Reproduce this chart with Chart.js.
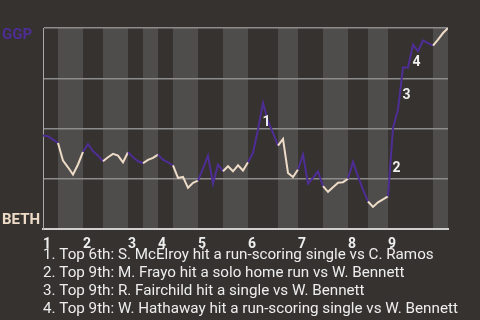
<!DOCTYPE html>
<html>
<head>
<meta charset="utf-8">
<script src="https://cdn.jsdelivr.net/npm/chart.js@4"></script>
<style>
  html, body { margin: 0; padding: 0; background: #353230; }
  #wrap { width: 480px; height: 320px; }
</style>
</head>
<body>
<div id="wrap"><canvas id="chart" width="480" height="320"></canvas></div>
<script>
// Teams: away (top of the scale) and home (bottom of the scale)
const awayTeam = 'GGP';
const homeTeam = 'BETH';

// GGP win probability (%) after each plate appearance, in game order
const winProb = [
  46.5, 46.2, 44.5, 42.8, 34.0, 30.7, 27.1, 32.1, 38.4, 42.3,
  38.7, 36.5, 33.7, 35.7, 37.4, 36.5, 33.2, 38.2, 35.7, 33.7,
  32.7, 34.4, 35.4, 37.0, 34.5, 33.2, 31.6, 25.4, 25.9, 20.5,
  23.0, 24.1, 30.1, 36.5, 22.5, 32.1, 28.7, 31.2, 28.7, 31.7,
  29.1, 33.2, 37.9, 49.5, 62.7, 53.6, 47.8, 41.5, 44.8, 27.9,
  25.9, 29.6, 37.0, 22.5, 25.4, 28.7, 21.3, 18.5, 20.8, 23.0,
  23.3, 25.0, 33.4, 26.2, 19.6, 13.7, 11.0, 13.3, 14.7, 16.2,
  50.3, 59.4, 80.4, 80.4, 91.7, 88.4, 93.8, 92.5, 91.2, 94.2,
  97.5, 100
];

// Event index where each half-inning begins (top 1st, bottom 1st, top 2nd, ...)
const halfInningStarts = [0, 3, 8, 12, 17, 20, 23, 26, 31, 36, 41, 47, 51, 56, 61, 65, 69, 78];

// Inning tick marks
const inningStarts = [0, 8, 17, 23, 31, 41, 51, 61, 69];
const inningLabels = ['1', '2', '3', '4', '5', '6', '7', '8', '9'];

// Key plays: event index that ends the play, and its description
const keyPlayEvents = [44, 70, 72, 74];
const keyPlayNotes = [
  'Top 6th: S. McElroy hit a run-scoring single vs C. Ramos',
  'Top 9th: M. Frayo hit a solo home run vs W. Bennett',
  'Top 9th: R. Fairchild hit a single vs W. Bennett',
  'Top 9th: W. Hathaway hit a run-scoring single vs W. Bennett'
];

const AWAY_COLOR = '#4e2d94';
const HOME_COLOR = '#efdcc8';
const BG = '#353230';
const STRIPE = '#4e4d4b';
const TEXT = '#eeeeee';
const FONT = 'Roboto, "DejaVu Sans", sans-serif';

function halfIndex(i) {
  let k = 0;
  for (let j = 0; j < halfInningStarts.length; j++) {
    if (halfInningStarts[j] <= i) k = j;
  }
  return k;
}
function isTopHalf(i) { return halfIndex(i) % 2 === 0; }

const lastEvent = winProb.length - 1;
const points = winProb.map((v, i) => ({ x: i, y: v }));

// Shaded bottom-half innings, drawn behind grid and line
const stripesPlugin = {
  id: 'stripes',
  beforeDraw(chart) {
    const { ctx, chartArea, scales } = chart;
    ctx.save();
    ctx.fillStyle = BG;
    ctx.fillRect(0, 0, chart.width, chart.height);
    ctx.fillStyle = STRIPE;
    for (let k = 1; k < halfInningStarts.length; k += 2) {
      const x0 = scales.x.getPixelForValue(halfInningStarts[k]);
      const end = k + 1 < halfInningStarts.length ? halfInningStarts[k + 1] : lastEvent;
      const x1 = scales.x.getPixelForValue(end);
      ctx.fillRect(x0, chartArea.top, x1 - x0, chartArea.bottom - chartArea.top);
    }
    ctx.restore();
  }
};

// Team names, key-play numbers and the key-play list
const notesPlugin = {
  id: 'notes',
  afterDraw(chart) {
    const { ctx, chartArea, scales } = chart;
    ctx.save();
    ctx.textAlign = 'left';
    ctx.textBaseline = 'alphabetic';
    ctx.font = 'bold 15px ' + FONT;
    ctx.fillStyle = AWAY_COLOR;
    ctx.fillText(awayTeam, 2, chartArea.top + 11);
    ctx.fillStyle = HOME_COLOR;
    ctx.fillText(homeTeam, 2, chartArea.bottom - 5);

    ctx.font = 'bold 14px ' + FONT;
    ctx.fillStyle = TEXT;
    ctx.textBaseline = 'middle';
    keyPlayEvents.forEach((ev, n) => {
      const xa = scales.x.getPixelForValue(ev - 1);
      const xb = scales.x.getPixelForValue(ev);
      const ya = scales.y.getPixelForValue(winProb[ev - 1]);
      const yb = scales.y.getPixelForValue(winProb[ev]);
      ctx.fillText(String(n + 1), (xa + xb) / 2 + 2, (ya + yb) / 2 + 6.5);
    });

    ctx.font = '15.2px ' + FONT;
    ctx.textBaseline = 'alphabetic';
    keyPlayNotes.forEach((note, n) => {
      ctx.fillText((n + 1) + '. ' + note, chartArea.left, 258.5 + n * 18);
    });
    ctx.restore();
  }
};

new Chart(document.getElementById('chart'), {
  type: 'line',
  data: {
    datasets: [{
      data: points,
      borderWidth: 2,
      pointRadius: 0,
      tension: 0,
      borderColor: AWAY_COLOR,
      segment: {
        borderColor: c => isTopHalf(c.p0DataIndex) ? AWAY_COLOR : HOME_COLOR
      }
    }]
  },
  options: {
    responsive: false,
    devicePixelRatio: 1,
    animation: false,
    events: [],
    layout: { padding: { left: 43, top: 28, right: 32, bottom: 0 } },
    plugins: { legend: { display: false }, tooltip: { enabled: false } },
    scales: {
      x: {
        type: 'linear',
        min: 0,
        max: lastEvent,
        afterBuildTicks: s => { s.ticks = inningStarts.map(v => ({ value: v })); },
        afterFit: s => { s.height = 91; },
        grid: { display: false },
        border: { display: true, color: '#cfcfcf', width: 2 },
        ticks: {
          align: 'start',
          autoSkip: false,
          maxRotation: 0,
          padding: 0,
          color: TEXT,
          font: { family: FONT, size: 14, weight: 'bold', lineHeight: 1 },
          callback: (v, i) => inningLabels[i]
        }
      },
      y: {
        min: 0,
        max: 100,
        afterFit: s => { s.width = 0; },
        ticks: { display: false, stepSize: 25 },
        grid: {
          drawTicks: false,
          color: c => c.tick && c.tick.value === 0 ? 'rgba(0,0,0,0)' : '#8c8c8c',
          lineWidth: 1.5
        },
        border: { display: true, color: '#a8a8a8', width: 1 }
      }
    }
  },
  plugins: [stripesPlugin, notesPlugin]
});
</script>
</body>
</html>
